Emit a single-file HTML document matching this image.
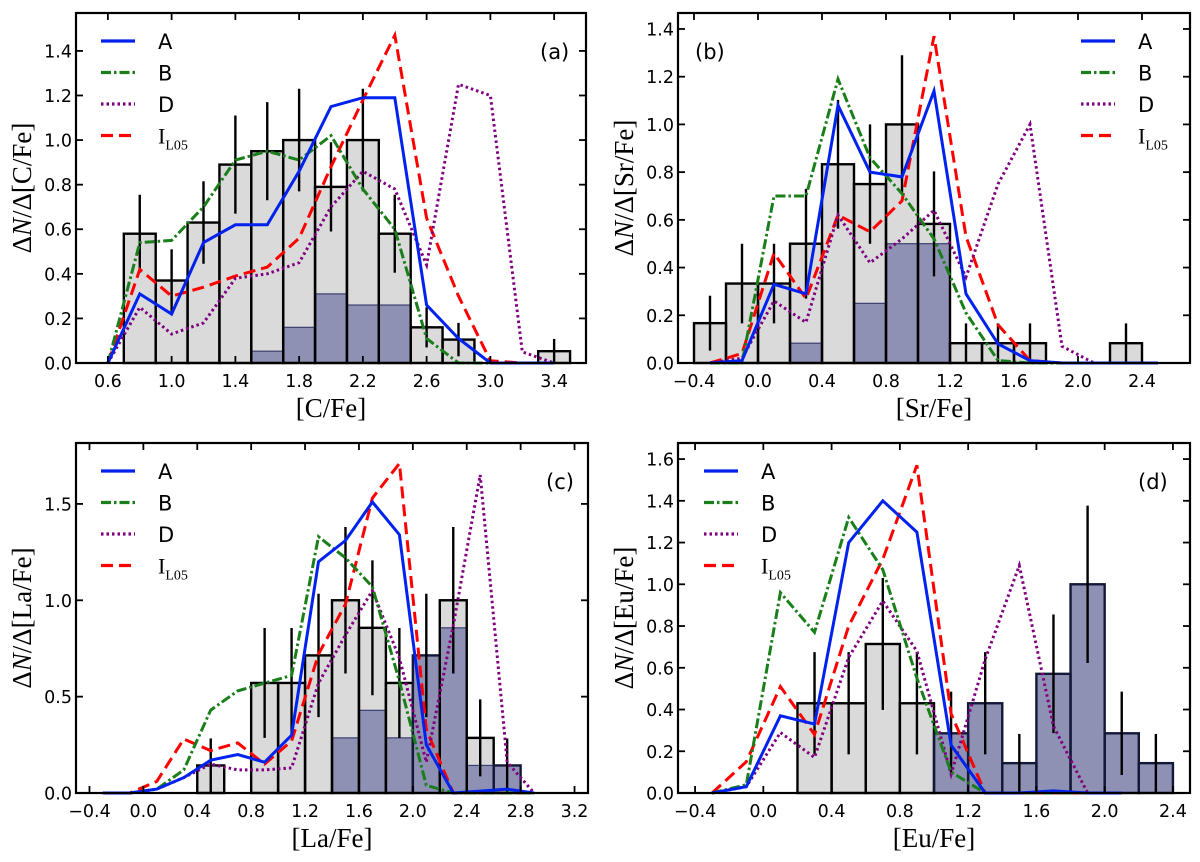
<!DOCTYPE html>
<html><head><meta charset="utf-8"><style>
html,body{margin:0;padding:0;background:#fff;}
svg{display:block;}
text{font-family:"DejaVu Sans","Liberation Sans",sans-serif;}
.ser{font-family:"Liberation Serif","DejaVu Serif",serif;}
</style></head><body>
<svg id="fig" width="1200" height="862" viewBox="0 0 1200 862" xmlns="http://www.w3.org/2000/svg"></svg>
<script>
// ---------- Panel (a) [C/Fe] ----------
const aBinStart=[0.7,0.9,1.1,1.3,1.5,1.7,1.9,2.1,2.3,2.5,2.7,3.3];
const aBars=[0.58,0.37,0.63,0.89,0.95,1.0,0.79,1.0,0.58,0.16,0.105,0.053];
const aDark=[0,0,0,0,0.053,0.16,0.31,0.26,0.26,0,0,0];
const aErr=[0.175,0.14,0.185,0.22,0.22,0.23,0.20,0.23,0.175,0.09,0.075,0.055];
const aLineX=[0.6,0.8,1.0,1.2,1.4,1.6,1.8,2.0,2.2,2.4,2.6,2.8,3.0,3.2,3.4];
const aA=[0,0.31,0.22,0.54,0.62,0.62,0.86,1.15,1.19,1.19,0.26,0.11,0.0,0,0];
const aB=[0,0.54,0.55,0.70,0.91,0.95,0.91,1.02,0.78,0.60,0.11,0.0,0,0,0];
const aD=[0,0.25,0.13,0.18,0.38,0.40,0.45,0.70,0.86,0.78,0.44,1.25,1.20,0.05,0];
const aI=[0,0.42,0.30,0.34,0.39,0.43,0.56,0.88,1.18,1.47,0.65,0.30,0.01,0,0];
const aXTicks=[0.6,1.0,1.4,1.8,2.2,2.6,3.0,3.4];
const aYTicks=[0,0.2,0.4,0.6,0.8,1.0,1.2,1.4];
// ---------- Panel (b) [Sr/Fe] ----------
const bBinStart=[-0.4,-0.2,0.0,0.2,0.4,0.6,0.8,1.0,1.2,1.4,1.6,2.2];
const bBars=[0.167,0.333,0.333,0.5,0.833,0.75,1.0,0.583,0.083,0.083,0.083,0.083];
const bDark=[0,0,0,0.083,0,0.25,0.5,0.5,0,0,0,0];
const bErr=[0.115,0.167,0.167,0.23,0.27,0.25,0.29,0.22,0.083,0.083,0.083,0.083];
const bLineX=[-0.3,-0.1,0.1,0.3,0.5,0.7,0.9,1.1,1.3,1.5,1.7,1.9,2.1,2.3,2.5];
const bA=[0,0.01,0.33,0.29,1.08,0.80,0.78,1.14,0.29,0.08,0.01,0,0,0,0];
const bB=[0,0.0,0.70,0.70,1.19,0.86,0.71,0.52,0.21,0.01,0,0,0,0,0];
const bD=[0,0.02,0.26,0.17,0.62,0.42,0.52,0.64,0.36,0.75,1.0,0.07,0,0,0];
const bI=[0,0.04,0.46,0.27,0.62,0.55,0.68,1.37,0.53,0.16,0.01,0,0,0,0];
const bXTicks=[-0.4,0.0,0.4,0.8,1.2,1.6,2.0,2.4];
const bYTicks=[0,0.2,0.4,0.6,0.8,1.0,1.2,1.4];
// ---------- Panel (c) [La/Fe] ----------
const cBinStart=[0.4,0.8,1.0,1.2,1.4,1.6,1.8,2.0,2.2,2.4,2.6];
const cBars=[0.143,0.571,0.571,0.714,1.0,0.857,0.571,0.714,1.0,0.286,0.143];
const cDark=[0,0,0,0,0.286,0.429,0.286,0.714,0.857,0.143,0.143];
const cErr=[0.14,0.285,0.285,0.32,0.38,0.35,0.285,0.32,0.38,0.2,0.14];
const cLineX=[-0.3,-0.1,0.1,0.3,0.5,0.7,0.9,1.1,1.3,1.5,1.7,1.9,2.1,2.3,2.5,2.7,2.9];
const cA=[0,0,0.02,0.08,0.17,0.20,0.16,0.30,1.20,1.31,1.51,1.34,0.25,0.0,0.01,0.02,0];
const cB=[0,0,0.02,0.12,0.43,0.53,0.57,0.61,1.33,1.22,1.07,0.58,0.04,0,0,0,0];
const cD=[0,0,0.02,0.08,0.15,0.12,0.12,0.13,0.57,0.82,1.05,0.70,0.16,0.87,1.65,0.16,0];
const cI=[0,0,0.06,0.28,0.22,0.26,0.15,0.27,0.72,0.98,1.53,1.71,0.33,0.0,0,0,0];
const cXTicks=[-0.4,0.0,0.4,0.8,1.2,1.6,2.0,2.4,2.8,3.2];
const cYTicks=[0,0.5,1.0,1.5];
// ---------- Panel (d) [Eu/Fe] ----------
const dBinStart=[0.2,0.4,0.6,0.8,1.0,1.2,1.4,1.6,1.8,2.0,2.2];
const dBars=[0.43,0.43,0.714,0.43,0.286,0.43,0.143,0.571,1.0,0.286,0.143];
const dDark=[0,0,0,0,0.286,0.43,0.143,0.571,1.0,0.286,0.143];
const dErr=[0.245,0.245,0.316,0.245,0.2,0.245,0.14,0.284,0.377,0.2,0.14];
const dLineX=[-0.3,-0.1,0.1,0.3,0.5,0.7,0.9,1.1,1.3,1.5,1.7,1.9,2.1];
const dA=[0,0.03,0.37,0.33,1.20,1.40,1.25,0.23,0.0,0.0,0.01,0,0];
const dB=[0,0.04,0.96,0.77,1.32,1.07,0.55,0.10,0.0,0,0,0,0];
const dD=[0,0.03,0.29,0.17,0.65,0.92,0.68,0.09,0.64,1.09,0.32,0,0];
const dI=[0,0.15,0.51,0.28,0.80,1.12,1.57,0.38,0,0,0,0,0];
const dXTicks=[-0.4,0.0,0.4,0.8,1.2,1.6,2.0,2.4];
const dYTicks=[0,0.2,0.4,0.6,0.8,1.0,1.2,1.4,1.6];

const NS="http://www.w3.org/2000/svg";
const fig=document.getElementById('fig');
function mk(tag,attrs,parent){const e=document.createElementNS(NS,tag);for(const k in attrs)e.setAttribute(k,attrs[k]);(parent||fig).appendChild(e);return e;}
function fmt(v,dec){let s=v.toFixed(dec);if(s.startsWith('-'))s='\u2212'+s.slice(1);return s;}

function panel(p){
  const g=mk('g',{});
  
  
  const X=v=>p.L+(v-p.x0)/(p.x1-p.x0)*(p.R-p.L);
  const Y=v=>p.B-(v-0)/(p.y1)*(p.B-p.T);
  const bw=0.2;
  p.bs.forEach((s,i)=>{
    const r=mk('rect',{x:X(s),y:Y(p.bars[i]),width:X(s+bw)-X(s),height:p.B-Y(p.bars[i]),fill:'#dadada'},g);
    
    
  });
  p.bs.forEach((s,i)=>{
    if(p.dark[i]<=0)return;
    const r=mk('rect',{x:X(s),y:Y(p.dark[i]),width:X(s+bw)-X(s),height:p.B-Y(p.dark[i]),fill:'#8e91b3',stroke:'#3c3f72','stroke-width':1.2},g);
    
    
  });
  p.bs.forEach((s,i)=>{
    const full=p.dark[i]>=p.bars[i]-1e-6;
    mk('rect',{x:X(s),y:Y(p.bars[i]),width:X(s+bw)-X(s),height:p.B-Y(p.bars[i]),fill:'none',stroke:full?'#141838':'#000','stroke-width':2.4},g);
  });
  p.bs.forEach((s,i)=>{
    const c=s+bw/2;
    const e=mk('line',{x1:X(c),x2:X(c),y1:Y(p.bars[i]+p.err[i]),y2:Y(Math.max(0,p.bars[i]-p.err[i])),stroke:'#000','stroke-width':2.4},g);
    
    
  });
  const styles=[
    {k:'I',col:'#ff0000',dash:'12,6',w:3},
    {k:'D',col:'#800080',dash:'2.5,3',w:3},
    {k:'B',col:'#1a7f1a',dash:'10,3,2.5,3',w:3},
    {k:'A',col:'#0022ee',dash:'',w:3}];
  const series={A:p.A,B:p.B2,D:p.D,I:p.I};
  styles.forEach(st=>{
    const pts=p.lx.map((x,i)=>X(x).toFixed(1)+','+Y(series[st.k][i]).toFixed(1)).join(' ');
    const pl=mk('polyline',{points:pts,fill:'none',stroke:st.col,'stroke-width':st.w,'stroke-dasharray':st.dash,'stroke-linejoin':'miter'},g);
    
    
  });
  const fr=mk('rect',{x:p.L,y:p.T,width:p.R-p.L,height:p.B-p.T,fill:'none',stroke:'#000','stroke-width':2.2},g);
  
  
  p.xt.forEach(t=>{
    const x=X(t);
    mk('line',{x1:x,x2:x,y1:p.B,y2:p.B-7,stroke:'#000','stroke-width':1.8},g);
    mk('line',{x1:x,x2:x,y1:p.T,y2:p.T+7,stroke:'#000','stroke-width':1.8},g);
    const tx=mk('text',{x:x,y:p.B+24,'text-anchor':'middle','font-size':17.5,fill:'#000'},g);
    tx.textContent=fmt(t,1);
    
    
  });
  p.yt.forEach(t=>{
    const y=Y(t);
    mk('line',{x1:p.L,x2:p.L+7,y1:y,y2:y,stroke:'#000','stroke-width':1.8},g);
    mk('line',{x1:p.R,x2:p.R-7,y1:y,y2:y,stroke:'#000','stroke-width':1.8},g);
    const tx=mk('text',{x:p.L-4,y:y+6.5,'text-anchor':'end','font-size':17.5,fill:'#000'},g);
    tx.textContent=fmt(t,1);
    
    
  });
  const xl=mk('text',{x:(p.L+p.R)/2,y:p.B+54,'text-anchor':'middle','font-size':27,class:'ser'},g);
  xl.textContent='['+p.el+'/Fe]';
  
  
  const yl=mk('text',{x:0,y:0,'text-anchor':'middle','font-size':27,class:'ser',transform:'translate('+(p.L-45)+','+((p.T+p.B)/2)+') rotate(-90)'},g);
  yl.innerHTML='\u0394<tspan font-style="italic">N</tspan>/\u0394['+p.el+'/Fe]';
  
  
  const pl=mk('text',{x:p.labX,y:p.T+46,'font-size':21},g);
  pl.textContent='('+p.id+')';
  
  
  const lg=mk('g',{},g);
  
  
  const order=[['A','#0022ee','',3.2],['B','#1a7f1a','10,3,2.5,3',3.2],['D','#800080','2.5,3',3.2],['I','#ff0000','12,6',3.2]];
  order.forEach((o,i)=>{
    const y=p.T+28+i*31.5;
    const ent=mk('g',{},lg);
    
    
    mk('line',{x1:p.legX,x2:p.legX+34,y1:y,y2:y,stroke:o[1],'stroke-width':o[3],'stroke-dasharray':o[2]},ent);
    if(o[0]==='I'){
      const t=mk('text',{x:p.legX+57,y:y+8,'font-size':22,class:'ser'},ent);
      t.innerHTML='I<tspan font-size="14" dy="6">L05</tspan>';
    }else{
      const t=mk('text',{x:p.legX+57,y:y+8,'font-size':21},ent);
      t.textContent=o[0];
    }
  });
}

panel({id:'a',el:'C',L:76,R:586,T:13,B:363,x0:0.4,x1:3.6,y1:1.57,bs:aBinStart,bars:aBars,dark:aDark,err:aErr,lx:aLineX,A:aA,B2:aB,D:aD,I:aI,xt:aXTicks,yt:aYTicks,labX:540,legX:101});
panel({id:'b',el:'Sr',L:678,R:1190,T:13,B:363,x0:-0.5,x1:2.7,y1:1.467,bs:bBinStart,bars:bBars,dark:bDark,err:bErr,lx:bLineX,A:bA,B2:bB,D:bD,I:bI,xt:bXTicks,yt:bYTicks,labX:695,legX:1081});
panel({id:'c',el:'La',L:76,R:588,T:443,B:793,x0:-0.5,x1:3.3,y1:1.816,bs:cBinStart,bars:cBars,dark:cDark,err:cErr,lx:cLineX,A:cA,B2:cB,D:cD,I:cI,xt:cXTicks,yt:cYTicks,labX:546,legX:101});
panel({id:'d',el:'Eu',L:678,R:1190,T:443,B:793,x0:-0.5,x1:2.5,y1:1.677,bs:dBinStart,bars:dBars,dark:dDark,err:dErr,lx:dLineX,A:dA,B2:dB,D:dD,I:dI,xt:dXTicks,yt:dYTicks,labX:1138,legX:704});
</script>
</body></html>
